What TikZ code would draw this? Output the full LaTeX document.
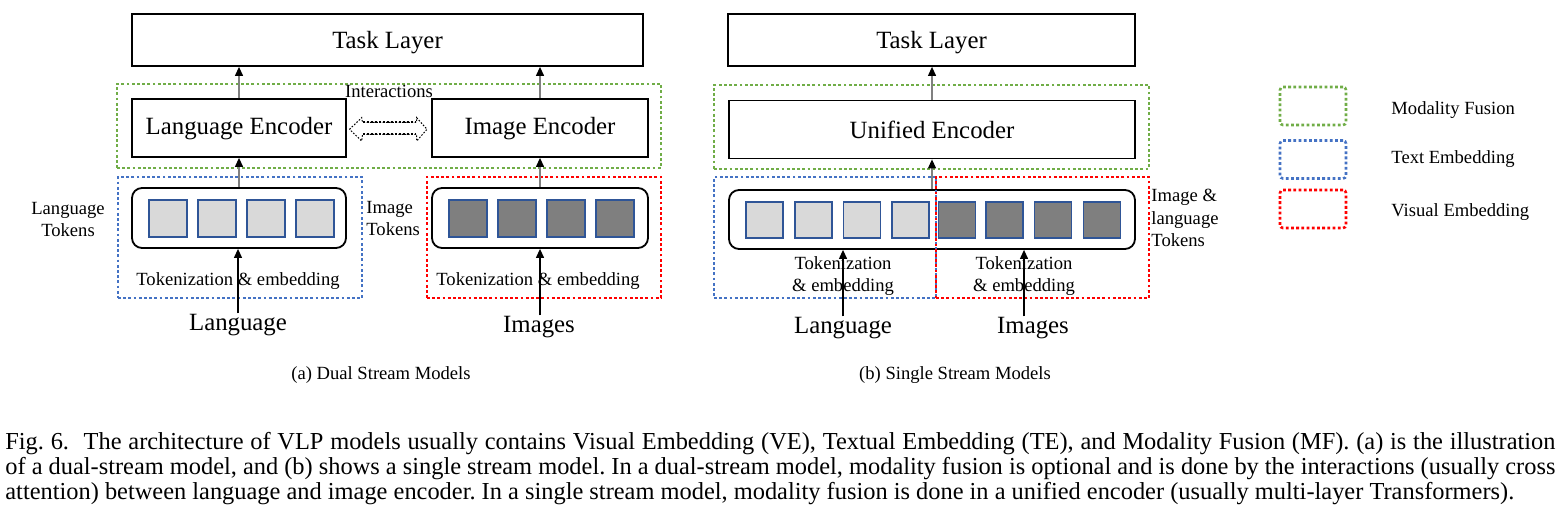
\documentclass[tikz,border=0pt]{standalone}
\usepackage{fontspec}
\setmainfont{Liberation Serif}
\usetikzlibrary{arrows.meta}
\definecolor{mfgreen}{HTML}{70AD47}
\definecolor{teblue}{HTML}{4472C4}
\definecolor{vered}{HTML}{FF0000}
\definecolor{tokborder}{HTML}{2F5597}
\definecolor{toklight}{HTML}{D9D9D9}
\definecolor{tokdark}{HTML}{7F7F7F}
\newcommand{\lowerby}[2]{\raisebox{-#1}[\height][\depth]{#2}}
\begin{document}
\begin{tikzpicture}[x=0.5pt,y=-0.5pt,
  blk/.style={draw=black, line width=0.9pt, inner sep=0pt, font=\fontsize{12.4}{14}\selectfont},
  tokrow/.style={draw=black, line width=0.9pt, rounded corners=5pt, inner sep=0pt},
  region/.style={line width=1.3pt, dash pattern=on 1.4pt off 1.2pt, inner sep=0pt},
  legbox/.style={region, rounded corners=1.5pt, minimum width=33pt, minimum height=19pt},
  ltok/.style={draw=tokborder, line width=0.7pt, fill=toklight, inner sep=0pt},
  dtok/.style={draw=tokborder, line width=0.7pt, fill=tokdark, inner sep=0pt},
  small/.style={font=\fontsize{9.3}{11.3}\selectfont, inner sep=0pt},
  big/.style={font=\fontsize{12.4}{14}\selectfont, inner sep=0pt},
  arr/.style={-{Triangle[length=4.5pt,width=4pt,color=black]}, line width=0.6pt},
  uparr/.style={arr, draw=gray}
]
\useasboundingbox (0,0) rectangle (1562,514);

% ---------- (a) Dual stream ----------
\node[blk, minimum width=255.5pt, minimum height=26pt] (taskL) at (387.5,40) {\lowerby{1.5pt}{Task Layer}};
\node[blk, minimum width=107pt, minimum height=29pt] (langEnc) at (239,128) {\lowerby{0.5pt}{Language Encoder}};
\node[blk, minimum width=108pt, minimum height=29pt] (imgEnc) at (540,128) {\lowerby{0.5pt}{Image Encoder}};
\node[region, draw=mfgreen, minimum width=272pt, minimum height=42pt] (mfL) at (389,126) {};
\node[region, draw=teblue, minimum width=122pt, minimum height=60.5pt] (teL) at (240,237.5) {};
\node[region, draw=vered, minimum width=117pt, minimum height=60.5pt] (veL) at (544,237.5) {};
\node[tokrow, minimum width=107pt, minimum height=30pt] (rowL) at (239,218) {};
\node[tokrow, minimum width=108pt, minimum height=30pt] (rowI) at (540,218) {};
\foreach \i/\x in {1/168,2/217,3/266,4/315}
  \node[ltok, minimum width=19pt, minimum height=18.5pt] (lt\i) at (\x,218.5) {};
\foreach \i/\x in {1/468,2/517,3/566,4/615}
  \node[dtok, minimum width=19pt, minimum height=18.5pt] (dt\i) at (\x,218.5) {};
\node[small, align=center] (langTok) at (68,219.5) {Language\\Tokens};
\node[small, align=left, anchor=west] (imgTok) at (366,218.5) {Image\\Tokens};
\node[small] (inter) at (389,91) {Interactions};
\node[small] (tokeL) at (238,281) {Tokenization \& embedding};
\node[small] (tokeI) at (538,281) {Tokenization \& embedding};
\node[big, anchor=base] (langA) at (238,330) {Language};
\node[big, anchor=base] (imgA) at (539,332) {Images};
\node[small] (capA) at (381,375) {(a) Dual Stream Models};

\draw[arr] (langA.north) -- (langA.north |- rowL.south);
\draw[arr] (imgA.north -| imgEnc) -- (imgEnc |- rowI.south);
\draw[uparr] (rowL.north -| langEnc) -- (langEnc.south);
\draw[uparr] (rowI.north -| imgEnc) -- (imgEnc.south);
\draw[uparr] (langEnc.north) -- (langEnc.north |- taskL.south);
\draw[uparr] (imgEnc.north) -- (imgEnc.north |- taskL.south);

% interaction double arrow
\draw[line width=0.5pt, dash pattern=on 0.8pt off 0.8pt]
  (349.5,129.3) -- (361.7,117.7) -- (362.5,122.3) -- (416.5,122.3) -- (416.7,117.7)
  -- (427,129.3) -- (416.7,141) -- (416.5,134.3) -- (362.5,134.3) -- (361.7,141) -- cycle;
\draw[line width=1pt, dash pattern=on 1pt off 1pt] (363,122.3) -- (416,122.3);
\draw[line width=1pt, dash pattern=on 1pt off 1pt] (363,134.3) -- (416,134.3);

% ---------- (b) Single stream ----------
\node[blk, minimum width=203.5pt, minimum height=26pt] (taskR) at (931.5,40) {\lowerby{1.5pt}{Task Layer}};
\node[blk, minimum width=203pt, minimum height=29pt] (uniEnc) at (932,129.5) {Unified Encoder};
\node[region, draw=mfgreen, minimum width=217.5pt, minimum height=42pt] (mfR) at (931.5,127) {};
\node[tokrow, minimum width=203pt, minimum height=29.5pt] (rowU) at (932,219.5) {};
\foreach \i/\x in {1/764.5,2/813.5,3/862,4/910.5}
  \node[ltok, minimum width=18.5pt, minimum height=18pt] (ut\i) at (\x,220) {};
\foreach \i/\x in {1/957,2/1004.5,3/1053,4/1102}
  \node[dtok, minimum width=18.5pt, minimum height=18pt] (vt\i) at (\x,220) {};
\node[region, draw=teblue, minimum width=111pt, minimum height=60.5pt] (teR) at (825,237.5) {};
\node[region, draw=vered, minimum width=106.5pt, minimum height=60.5pt] (veR) at (1042.5,237.5) {};
\node[small, align=center] (tokeU1) at (843,276) {Tokenization\\\& embedding};
\node[small, align=center] (tokeU2) at (1024,276) {Tokenization\\\& embedding};
\node[small, align=left, anchor=west] (ilTok) at (1151,218) {Image \&\\language\\Tokens};
\node[big, anchor=base] (langB) at (843,333) {Language};
\node[big, anchor=base] (imgB) at (1033,333) {Images};
\node[small] (capB) at (955,375) {(b) Single Stream Models};

\draw[arr] (langB.north -| tokeU1) -- (tokeU1 |- rowU.south);
\draw[arr] (imgB.north -| tokeU2) -- (tokeU2 |- rowU.south);
\draw[uparr] (rowU.north) -- (uniEnc.south);
\draw[uparr] (uniEnc.north) -- (uniEnc.north |- taskR.south);

% ---------- legend ----------
\node[legbox, draw=mfgreen] (legMF) at (1313,106) {};
\node[legbox, draw=teblue] (legTE) at (1313,159.5) {};
\node[legbox, draw=vered] (legVE) at (1313,209) {};
\node[small, anchor=west] (legMFt) at (1391,110) {Modality Fusion};
\node[small, anchor=west] (legTEt) at (1391,159) {Text Embedding};
\node[small, anchor=west] (legVEt) at (1391,212) {Visual Embedding};

% ---------- caption ----------
\node[anchor=north west, text width=775pt, align=justify, inner sep=0pt,
      font=\fontsize{12.2}{12.5}\selectfont\frenchspacing] (cap) at (5,432)
{Fig.\ 6.\hspace{0.6em}The architecture of VLP models usually contains Visual Embedding (VE), Textual Embedding (TE), and Modality Fusion (MF). (a) is the illustration\linebreak
of a dual-stream model, and (b) shows a single stream model. In a dual-stream model, modality fusion is optional and is done by the interactions (usually cross\linebreak
attention) between language and image encoder. In a single stream model, modality fusion is done in a unified encoder (usually multi-layer Transformers).};
\end{tikzpicture}
\end{document}
